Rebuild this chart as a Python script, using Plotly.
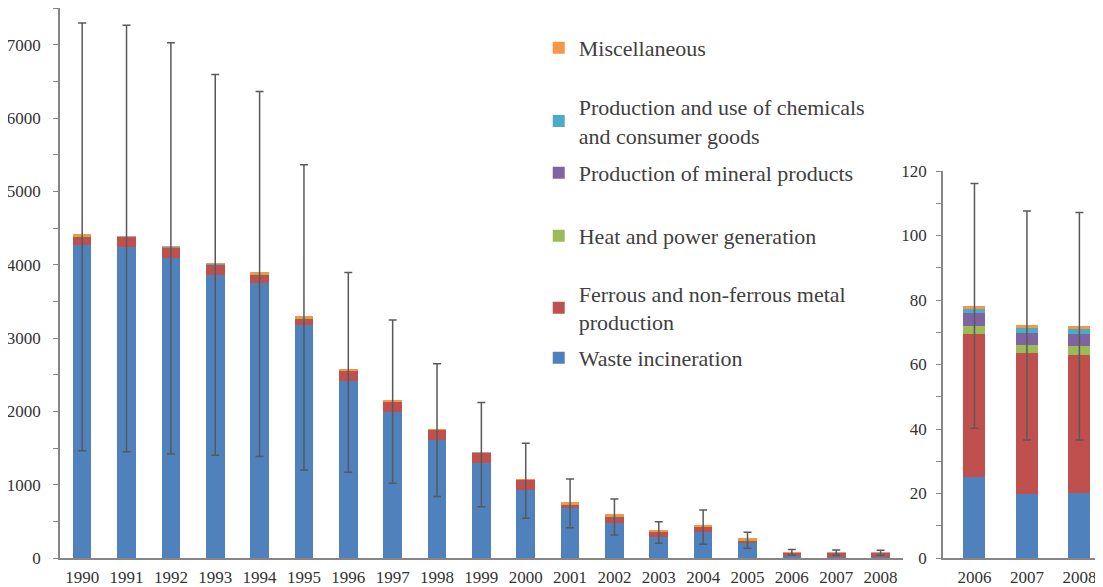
import numpy as np
import plotly.graph_objects as go

years = [str(y) for y in range(1990, 2009)]
inset_years = ["2006", "2007", "2008"]

waste = [4265, 4245, 4092, 3862, 3748, 3179, 2420, 1997, 1610, 1292, 928, 687, 482, 291, 359, 200, 25.2, 19.9, 20.1]
ferrous = [123, 127, 140, 140, 124, 91, 130, 135, 136, 136, 136, 48, 89, 66, 66, 44, 44.3, 43.7, 43.0]
heat = [4, 4, 4, 4, 4, 8, 3, 3, 3, 3, 3, 4, 3, 3, 3, 4, 2.4, 2.3, 2.6]
mineral = [3, 3, 3, 3, 3, 4, 3, 3, 3, 3, 3, 3, 3, 3, 3, 3, 4.0, 3.8, 3.8]
chem = [2, 2, 2, 2, 2, 3, 2, 2, 2, 2, 2, 2, 2, 2, 2, 2, 1.3, 1.6, 1.5]
misc = [8, 6, 8, 6, 6, 17, 6, 5, 5, 6, 5, 16, 9, 7, 7, 14, 1.0, 1.0, 1.0]

err_top = [7296, 7265, 7026, 6592, 6362, 5362, 3893, 3247, 2650, 2119, 1565, 1078, 805, 496, 655, 350, 116.1, 107.6, 107.1]
err_bottom = [1464, 1449, 1418, 1401, 1383, 1200, 1169, 1019, 837, 700, 541, 414, 314, 200, 187, 132, 40.2, 36.6, 36.6]

series = [
    ("Waste incineration", waste, "#4F81BD"),
    ("Ferrous and non-ferrous metal<br>production", ferrous, "#C0504D"),
    ("Heat and power generation", heat, "#9BBB59"),
    ("Production of mineral products", mineral, "#8064A2"),
    ("Production and use of chemicals<br>and consumer goods", chem, "#4BACC6"),
    ("Miscellaneous", misc, "#F79646"),
]

legend_names = ["legend6", "legend5", "legend4", "legend3", "legend2", "legend"]
legend_y = [0.3636, 0.4545, 0.5855, 0.70, 0.7936, 0.9273]

totals = np.sum(np.array([s[1] for s in series], dtype=float), axis=0)
up = np.array(err_top) - totals
down = totals - np.array(err_bottom)

fig = go.Figure()
n_in = len(inset_years)
for (name, vals, color), lg in zip(series, legend_names):
    fig.add_trace(go.Bar(x=years, y=vals, name=name, marker=dict(color=color, line=dict(width=0)),
                         legend=lg, xaxis="x", yaxis="y"))
    fig.add_trace(go.Bar(x=inset_years, y=vals[-n_in:], name=name, marker=dict(color=color, line=dict(width=0)),
                         showlegend=False, xaxis="x2", yaxis="y2"))

eb = dict(type="data", symmetric=False, color="#595959", thickness=1.5, width=4)
fig.add_trace(go.Scatter(x=years, y=totals, mode="markers", marker=dict(size=1, color="rgba(0,0,0,0)"),
                         error_y=dict(array=up, arrayminus=down, **eb), showlegend=False,
                         hoverinfo="skip", xaxis="x", yaxis="y"))
fig.add_trace(go.Scatter(x=inset_years, y=totals[-n_in:], mode="markers", marker=dict(size=1, color="rgba(0,0,0,0)"),
                         error_y=dict(array=up[-n_in:], arrayminus=down[-n_in:], **eb), showlegend=False,
                         hoverinfo="skip", xaxis="x2", yaxis="y2"))

serif = "Liberation Serif, Times New Roman, serif"
font_ticks = dict(family=serif, size=17, color="#333333")
axis_common = dict(showgrid=False, zeroline=False, showline=True, linecolor="#868686", linewidth=1.5)

layout_legends = {}
for lg, y in zip(legend_names, legend_y):
    layout_legends[lg] = dict(x=0.459, y=y, xanchor="left", yanchor="middle",
                              bgcolor="rgba(0,0,0,0)", borderwidth=0,
                              font=dict(family=serif, size=22, color="#404040"))

fig.update_layout(
    width=1095, height=579,
    margin=dict(l=52, r=0, t=0, b=29, autoexpand=False),
    paper_bgcolor="white", plot_bgcolor="white",
    barmode="stack", bargap=0.58,
    font=dict(family=serif),
    xaxis=dict(domain=[0, 0.808], range=[-0.5, 18.5], tickfont=font_ticks, ticks="outside", ticklen=3,
               tickcolor="rgba(0,0,0,0)", anchor="y", **axis_common),
    yaxis=dict(range=[0, 7500], tick0=0, dtick=1000, ticks="outside", ticklen=5, tickcolor="#868686",
               tickwidth=1.2, tickfont=font_ticks, anchor="x", ticklabelstandoff=9,
               minor=dict(dtick=500, ticks="outside", ticklen=5, tickcolor="#868686", tickwidth=1.2),
               **axis_common),
    xaxis2=dict(domain=[0.8466, 1.0], range=[-0.6, 2.45], tickfont=font_ticks, ticks="outside", ticklen=3,
                tickcolor="rgba(0,0,0,0)", anchor="y2", **axis_common),
    yaxis2=dict(domain=[0, 0.7036], range=[0, 120], tick0=0, dtick=20, ticks="outside", ticklen=5,
                tickcolor="#868686", tickwidth=1.2, tickfont=font_ticks, anchor="x2", ticklabelstandoff=6,
                minor=dict(dtick=10, ticks="outside", ticklen=5, tickcolor="#868686", tickwidth=1.2),
                **axis_common),
    **layout_legends,
)

fig.write_html("out.html")
